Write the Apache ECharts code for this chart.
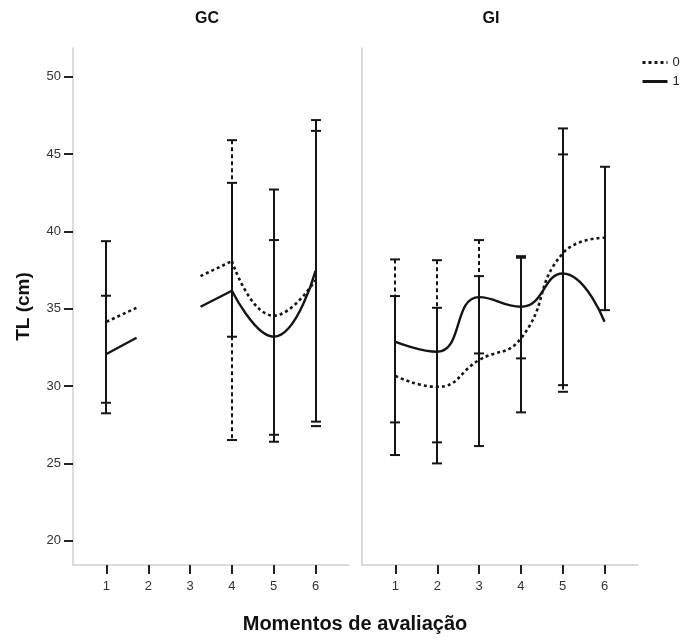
<!DOCTYPE html>
<html>
<head>
<meta charset="utf-8">
<script src="https://cdn.jsdelivr.net/npm/echarts@6/dist/echarts.min.js"></script>
<style>
html,body{margin:0;padding:0;background:#fff;}
#c{width:680px;height:642px;}
</style>
</head>
<body>
<div id="c"></div>
<script>
// ---- data ----
var moments = [1, 2, 3, 4, 5, 6];
var tickValues = [20, 25, 30, 35, 40, 45, 50];
var panelTitles = ['GC', 'GI'];
var legendNames = ['0', '1'];

// GC panel: means (spline part) at moments 4..6
var gcMean0 = [34.16, null, null, 38.08, 34.55, 36.85];
var gcMean1 = [32.07, null, null, 36.16, 33.19, 37.45];
// GC short stub segments (x positions and values)
var gcStubX  = [1, 1.72, 3.25, 4];
var gcStub0  = [34.16, 35.06, 37.11, 38.08];
var gcStub1  = [32.07, 33.12, 35.13, 36.16];
// GC error bars
var gcLo0 = [28.92, null, null, 26.51, 26.85, 27.41];
var gcHi0 = [35.84, null, null, 45.90, 39.44, 46.50];
var gcLo1 = [28.24, null, null, 33.19, 26.40, 27.70];
var gcHi1 = [39.37, null, null, 43.14, 42.71, 47.20];

// GI panel
var giMean0 = [30.65, 29.95, 31.68, 33.08, 38.58, 39.59];
var giMean1 = [32.86, 32.22, 35.75, 35.13, 37.28, 34.16];
var giLo0 = [27.65, 26.36, 32.11, 31.79, 29.63, null];
var giHi0 = [38.19, 38.14, 39.44, 38.40, 44.98, null];
var giLo1 = [25.54, 25.00, 26.12, 28.30, 30.06, 34.91];
var giHi1 = [35.82, 35.06, 37.11, 38.30, 46.66, 44.18];

// ---- helpers ----
function pairs(xs, ys) {
  var out = [];
  for (var i = 0; i < xs.length; i++) {
    if (ys[i] !== null) out.push([xs[i], ys[i]]);
  }
  return out;
}
function stubData(xs, ys) {
  return [[xs[0], ys[0]], [xs[1], ys[1]], '-', [xs[2], ys[2]], [xs[3], ys[3]]];
}
function errData(lo, hi) {
  var out = [];
  for (var i = 0; i < moments.length; i++) {
    if (lo[i] !== null && hi[i] !== null) out.push([moments[i], lo[i], hi[i]]);
  }
  return out;
}
var INK = '#151515';
function errSeries(name, gi, lo, hi, dashed) {
  return {
    name: name, type: 'custom', xAxisIndex: gi, yAxisIndex: gi, silent: true,
    z: dashed ? 2 : 3,
    encode: { x: 0, y: [1, 2] },
    data: errData(lo, hi),
    renderItem: function (params, api) {
      var x = api.value(0), l = api.value(1), h = api.value(2);
      var pt = api.coord([x, h]), pb = api.coord([x, l]);
      var cx = Math.round(pt[0]);
      var hw = 5;
      var st = { stroke: INK, lineWidth: 2, fill: null };
      if (dashed) st.lineDash = [4, 3];
      return { type: 'group', children: [
        { type: 'line', shape: { x1: cx, y1: pt[1], x2: cx, y2: pb[1] }, style: st },
        { type: 'line', shape: { x1: cx - hw, y1: pt[1], x2: cx + hw, y2: pt[1] }, style: { stroke: INK, lineWidth: 2 } },
        { type: 'line', shape: { x1: cx - hw, y1: pb[1], x2: cx + hw, y2: pb[1] }, style: { stroke: INK, lineWidth: 2 } }
      ]};
    }
  };
}
var dotStyle = { color: INK, width: 2.6, type: [3, 3] };
var solidStyle = { color: INK, width: 2.4, type: 'solid' };
function lineSeries(name, gi, data, smooth, dotted) {
  return {
    name: name, type: 'line', xAxisIndex: gi, yAxisIndex: gi, silent: true,
    data: data, smooth: smooth ? 0.5 : false, symbol: 'none', connectNulls: false,
    color: INK, lineStyle: dotted ? dotStyle : solidStyle, z: 5,
    itemStyle: { opacity: 0 }
  };
}

var FONT = '"Liberation Sans", Arial, Helvetica, sans-serif';

function xAx(gi) {
  return {
    type: 'value', gridIndex: gi, min: 0.2, max: 6.8,
    axisLine: { show: true, lineStyle: { color: '#cfcfcf', width: 1.5 } },
    axisTick: { show: true, length: 9, customValues: moments, lineStyle: { color: '#222', width: 2 } },
    axisLabel: { customValues: moments, margin: 15, fontSize: 13, color: '#333', fontFamily: FONT },
    splitLine: { show: false }
  };
}
function yAx(gi) {
  var a = {
    type: 'value', gridIndex: gi, min: 18.43, max: 51.86,
    axisLine: { show: true, lineStyle: { color: '#cfcfcf', width: 1.5 } },
    splitLine: { show: false }
  };
  if (gi === 0) {
    a.axisTick = { show: true, length: 9, customValues: tickValues, lineStyle: { color: '#222', width: 2 } };
    a.axisLabel = { customValues: tickValues, margin: 12, fontSize: 13, color: '#333', fontFamily: FONT };
    a.name = 'TL (cm)';
    a.nameLocation = 'middle';
    a.nameGap = 40;
    a.nameTextStyle = { fontSize: 19, fontWeight: 'bold', color: '#111', fontFamily: FONT };
  } else {
    a.axisTick = { show: false };
    a.axisLabel = { show: false };
  }
  return a;
}

var chart = echarts.init(document.getElementById('c'), null, { renderer: 'canvas' });
chart.setOption({
  animation: false,
  backgroundColor: '#fff',
  textStyle: { fontFamily: FONT },
  grid: [
    { left: 73, right: 331, top: 48, bottom: 77 },
    { left: 362, right: 42, top: 48, bottom: 77 }
  ],
  xAxis: [xAx(0), xAx(1)],
  yAxis: [yAx(0), yAx(1)],
  legend: {
    data: legendNames, orient: 'vertical', left: 641, top: 56,
    itemWidth: 25, itemHeight: 12, itemGap: 6, selectedMode: false,
    itemStyle: { opacity: 0 },
    lineStyle: { width: 3, opacity: 1 },
    textStyle: { fontSize: 13, color: '#222', fontFamily: FONT }, padding: 0
  },
  graphic: [
    { type: 'text', x: 207, y: 19, style: { text: panelTitles[0], font: 'bold 16px ' + FONT, fill: '#111', textAlign: 'center', textVerticalAlign: 'middle' } },
    { type: 'text', x: 491, y: 19, style: { text: panelTitles[1], font: 'bold 16px ' + FONT, fill: '#111', textAlign: 'center', textVerticalAlign: 'middle' } },
    { type: 'text', x: 355, y: 624, style: { text: 'Momentos de avaliação', font: 'bold 20px ' + FONT, fill: '#111', textAlign: 'center', textVerticalAlign: 'middle' } }
  ],
  series: [
    errSeries('e0a', 0, gcLo0, gcHi0, true),
    errSeries('e0b', 1, giLo0, giHi0, true),
    errSeries('e1a', 0, gcLo1, gcHi1, false),
    errSeries('e1b', 1, giLo1, giHi1, false),
    lineSeries('0', 1, pairs(moments, giMean0), true, true),
    lineSeries('1', 1, pairs(moments, giMean1), true, false),
    lineSeries('0', 0, pairs(moments.slice(3), gcMean0.slice(3)), true, true),
    lineSeries('1', 0, pairs(moments.slice(3), gcMean1.slice(3)), true, false),
    lineSeries('0', 0, stubData(gcStubX, gcStub0), false, true),
    lineSeries('1', 0, stubData(gcStubX, gcStub1), false, false)
  ]
});
</script>
</body>
</html>
